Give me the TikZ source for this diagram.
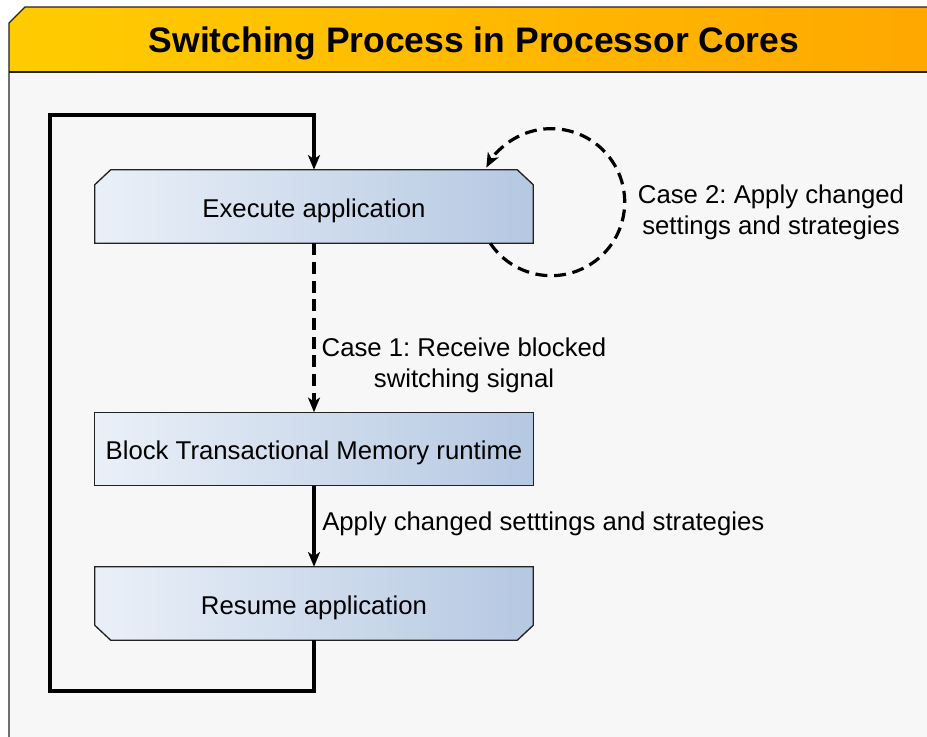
\documentclass[tikz,border=0pt]{standalone}
\usepackage{fontspec}
\setmainfont{Liberation Sans}
\frenchspacing
\usetikzlibrary{arrows.meta,backgrounds}
\definecolor{titleL}{HTML}{FFCC00}
\definecolor{titleR}{HTML}{FFA800}
\definecolor{bodybg}{HTML}{F7F7F7}
\definecolor{boxL}{HTML}{EAF0F8}
\definecolor{boxR}{HTML}{B5C8E2}
\definecolor{edge}{HTML}{222222}
\begin{document}
\begin{tikzpicture}[x=0.75pt,y=-0.75pt,
 txt/.style={font=\fontsize{19.3}{23.25}\selectfont, text=black, inner sep=0pt, align=center},
 boxnode/.style={txt, minimum width=328.5pt, minimum height=54.75pt, text height=16pt, text depth=0pt},
 boxshade/.style={left color=boxL,right color=boxR,draw=edge,line width=1pt},
 solidarrow/.style={draw=black,line width=2.4pt,-{Stealth[length=11pt,width=9pt,inset=3pt]}},
 dasharrow/.style={solidarrow,dash pattern=on 9pt off 5pt},
 loopline/.style={solidarrow,line width=2.6pt},
 titletxt/.style={font=\fontsize{26.6}{32}\selectfont\bfseries, text=black, inner sep=0pt},
]
\useasboundingbox (0,0) rectangle (927,736);

\node[titletxt,anchor=base] (title) at (474,52.7) {Switching Process in Processor Cores};

% boxes (text nodes)
\node[boxnode] (exec) at (314,206.5) {Execute application};
\node[boxnode] (block) at (314,449) {Block Transactional Memory runtime};
\node[boxnode] (resume) at (314,603.5) {Resume application};

\begin{pgfonlayer}{background}
\fill[white] (0,0) rectangle (927,736);
\fill[bodybg] (9,72) rectangle (928,737);
\shade[left color=titleL,right color=titleR] (9,23) -- (25,7) -- (928,7) -- (928,72) -- (9,72) -- cycle;
\draw[edge,line width=1pt] (9,737) -- (9,23) -- (25,7) -- (928,7);
\draw[edge,line width=1pt] (9,72) -- (928,72);
\shade[boxshade] ([yshift=-11.25pt]exec.north west) -- ([xshift=12pt]exec.north west)
  -- ([xshift=-12pt]exec.north east) -- ([yshift=-11.25pt]exec.north east)
  -- (exec.south east) -- (exec.south west) -- cycle;
\shade[boxshade] (block.north west) rectangle (block.south east);
\shade[boxshade] (resume.north west) -- (resume.north east)
  -- ([yshift=11.25pt]resume.south east) -- ([xshift=-12pt]resume.south east)
  -- ([xshift=12pt]resume.south west) -- ([yshift=11.25pt]resume.south west) -- cycle;
\end{pgfonlayer}

% loop back
\coordinate (lb) at (50,691);
\coordinate (lt) at (50,115);
\draw[loopline] (resume.south) |- (lb) -- (lt) -| (exec.north);

% case 1
\draw[dasharrow] (exec.south) -- (block.north);
\node[txt] (case1) at (464,365) {Case 1: Receive blocked\\switching signal};

% apply
\draw[solidarrow] (block.south) -- (resume.north);
\node[txt,anchor=west] (apply) at (322,524) {Apply changed setttings and strategies};

% case 2 self-loop
\draw[dasharrow] ([xshift=-32.25pt]exec.south east) arc[start angle=146,end angle=-152,radius=73.5];
\node[txt] (case2) at (771,212) {Case 2: Apply changed\\settings and strategies};
\end{tikzpicture}
\end{document}
